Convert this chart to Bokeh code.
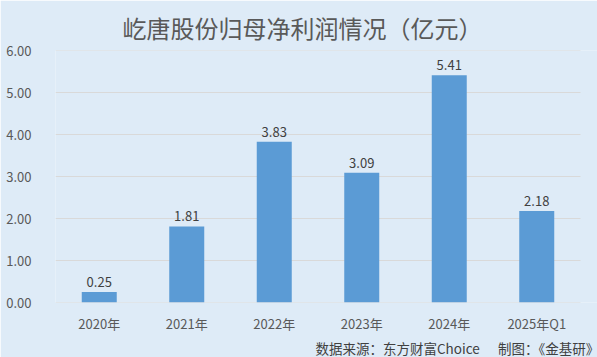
from bokeh.plotting import figure
from bokeh.models import ColumnDataSource, FixedTicker, NumeralTickFormatter, LabelSet, Range1d, Title
from bokeh.core.properties import value
from bokeh.embed import file_html
from bokeh.resources import INLINE

categories = ["2020年", "2021年", "2022年", "2023年", "2024年", "2025年Q1"]
values = [0.25, 1.81, 3.83, 3.09, 5.41, 2.18]
value_labels = ["0.25", "1.81", "3.83", "3.09", "5.41", "2.18"]
y_ticks = [0, 1, 2, 3, 4, 5, 6]
title_text = "屹唐股份归母净利润情况（亿元）"
footer_text = "数据来源：东方财富Choice\u00a0\u00a0\u00a0\u00a0\u00a0\u00a0制图：《金基研》"

BG = "#deebf7"
FONT = "Noto Sans CJK SC"

n = len(categories)
xpos = [i + 0.5 for i in range(n)]
src = ColumnDataSource(dict(x=xpos, val=values, lab=value_labels))

W, H = 597, 357
LEFT, RIGHT_PLOT = 55, 580
unit = (RIGHT_PLOT - LEFT) / n

p = figure(x_range=Range1d(0, (W - LEFT) / unit), y_range=Range1d(0, 6), width=W, height=H,
           output_backend="svg", toolbar_location=None,
           min_border_left=LEFT, min_border_right=0, min_border_top=50, min_border_bottom=0)
p.background_fill_color = BG
p.border_fill_color = BG
p.outline_line_color = None

p.title.text = title_text
p.title.align = "left"
p.title.offset = 67
p.title.text_font_size = "24px"
p.title.text_font_style = "normal"
p.title.text_color = "#595959"
p.title.text_font = FONT
p.title.standoff = 12

p.xgrid.grid_line_color = None
p.ygrid.grid_line_color = None
p.segment(x0=0, x1=n, y0=y_ticks, y1=y_ticks, line_color="#d9d9d9", line_width=1)

p.vbar(x="x", top="val", width=0.4, source=src, color="#5b9bd5", line_color=None)

p.add_layout(LabelSet(x="x", y="val", text="lab", source=src, text_align="center",
                      text_baseline="bottom", y_offset=5, text_font_size=value("13px"),
                      text_color=value("#404040"), text_font=value(FONT)))

p.yaxis.ticker = FixedTicker(ticks=y_ticks)
p.yaxis.formatter = NumeralTickFormatter(format="0.00")
p.xaxis.ticker = FixedTicker(ticks=xpos)
p.xaxis.major_label_overrides = {x: c for x, c in zip(xpos, categories)}
for ax in (p.xaxis[0], p.yaxis[0]):
    ax.axis_line_color = None
    ax.major_tick_line_color = None
    ax.minor_tick_line_color = None
    ax.major_label_text_font_size = "13px"
    ax.major_label_text_color = "#595959"
    ax.major_label_text_font = FONT
p.yaxis.major_label_standoff = 18
p.xaxis.major_label_standoff = 5

footer = Title(text=footer_text, align="left", offset=260, text_font_size="13.5px",
               text_font_style="normal", text_color="#404040", text_font=FONT, standoff=0)
p.add_layout(footer, "below")

open("out.html", "w").write(file_html(p, INLINE))
